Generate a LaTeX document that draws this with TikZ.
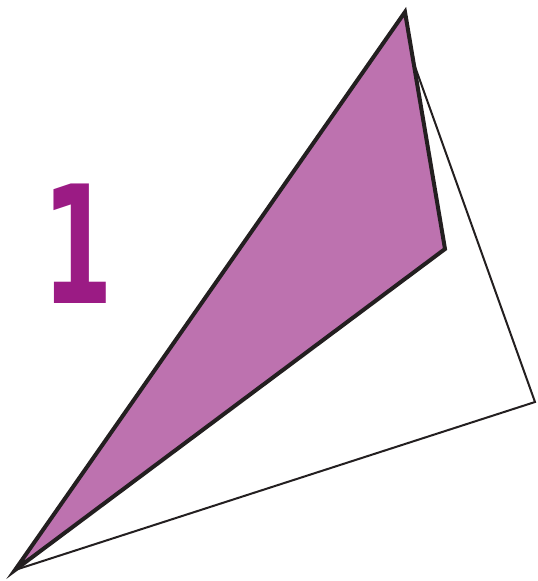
\documentclass[tikz,border=0pt]{standalone}
\usepackage{fontspec}
\newfontfamily\digitfont{DejaVu Sans}
\definecolor{Orchid}{HTML}{BD72AF}
\definecolor{Plum}{HTML}{9B1B84}
\definecolor{Ink}{HTML}{231F20}
\usetikzlibrary{calc}

\begin{document}
\begin{tikzpicture}[x=1pt,y=-1pt]
    \useasboundingbox (0,0) rectangle (538,581);
    % Corners
    \coordinate (tip) at (15,570);
    \coordinate (apex) at (405,12);
    \coordinate (back) at (413,61);
    \coordinate (fold) at (445,249);
    \coordinate (far) at (535,402);

    % Back sheet
    \draw[Ink,line width=2pt,line join=miter] (tip) -- (back) -- (far) -- cycle;
    % Front sheet
    \filldraw[fill=Orchid,draw=Ink,line width=4pt,line join=miter,miter limit=20] (tip) -- (apex) -- (fold) -- cycle;

    % Number
    \node[text=Plum,inner sep=0pt,xscale=0.62] (num) at (78,244) {\digitfont\bfseries\fontsize{164}{164}\selectfont 1};
\end{tikzpicture}
\end{document}
